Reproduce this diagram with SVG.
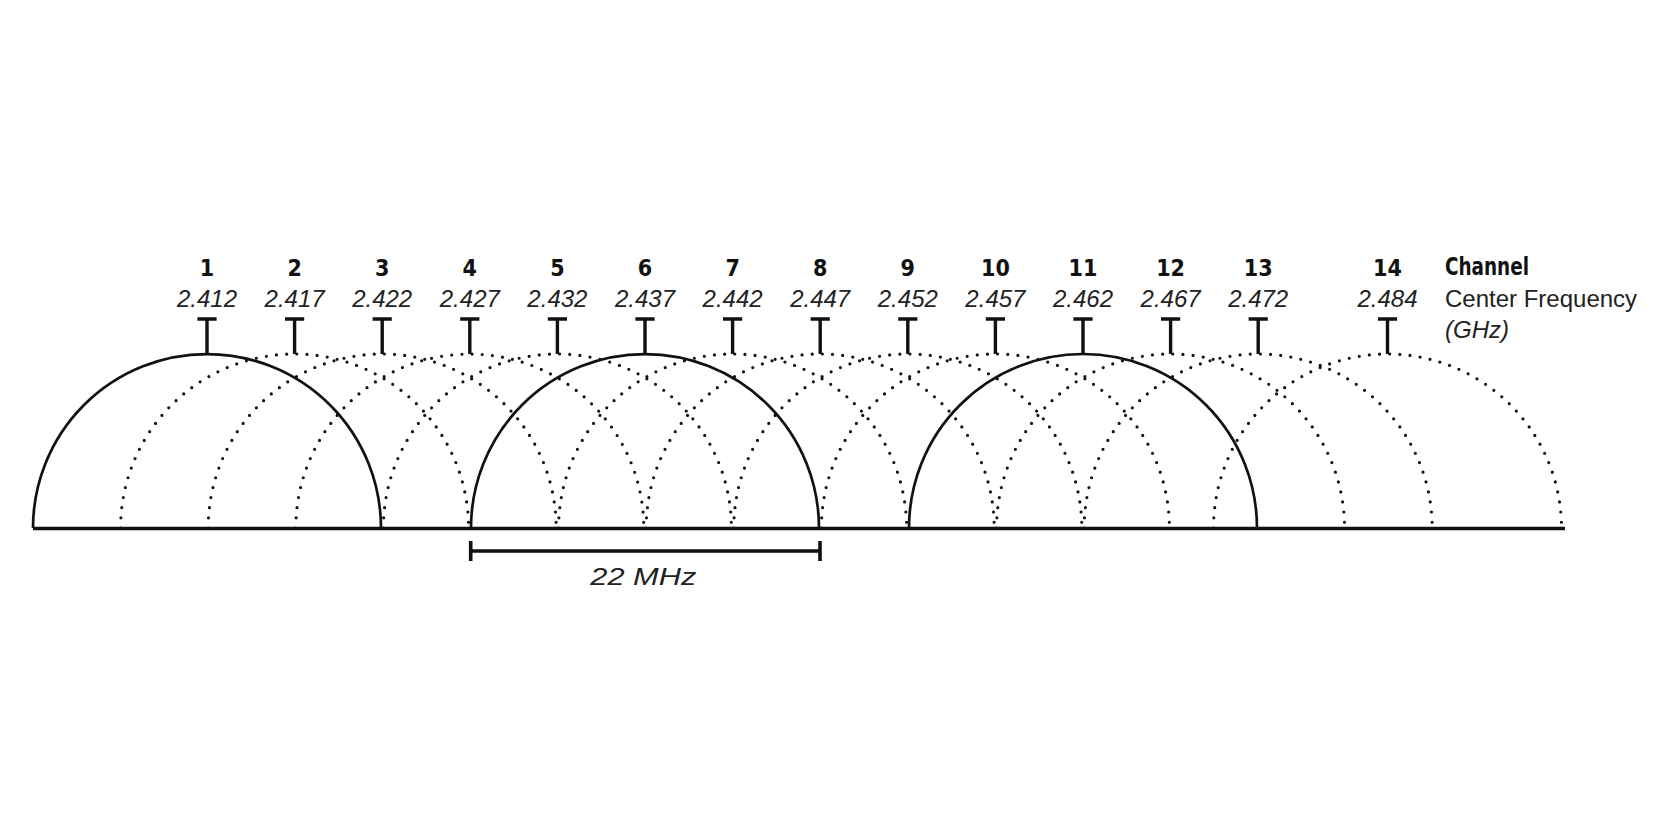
<svg xmlns="http://www.w3.org/2000/svg" width="1680" height="840" viewBox="0 0 1680 840">
<style>
.num{font-family:"Liberation Sans Narrow","DejaVu Sans Condensed","Liberation Sans",sans-serif;font-weight:bold;font-size:23px;fill:#111;text-anchor:middle}
.freq{font-family:"Liberation Sans","DejaVu Sans",sans-serif;font-style:italic;font-size:24px;fill:#222;text-anchor:middle}
.lab{font-family:"Liberation Sans","DejaVu Sans",sans-serif;font-size:24px;fill:#222}
.labb{font-family:"Liberation Sans Narrow","DejaVu Sans Condensed","Liberation Sans",sans-serif;font-weight:bold;font-size:25px;fill:#111}
.tick{stroke:#111;stroke-width:3.4;fill:none}
.solid{stroke:#111;stroke-width:2.7;fill:none}
.dot{stroke:#111;stroke-width:3.2;fill:none;stroke-linecap:round;stroke-dasharray:0 10.2}
.axis{stroke:#111;stroke-width:3.6;fill:none}
</style>
<rect width="1680" height="840" fill="#fff"/>
<g id="ch2"><text class="num" x="294.6" y="276">2</text><text class="freq" x="294.6" y="307">2.417</text><path class="tick" d="M285 319H304.2M294.6 319V354"/><path class="dot" d="M120.6 528A174 174 0 0 1 468.6 528"/></g>
<g id="ch3"><text class="num" x="382.2" y="276">3</text><text class="freq" x="382.2" y="307">2.422</text><path class="tick" d="M372.6 319H391.8M382.2 319V354"/><path class="dot" d="M208.2 528A174 174 0 0 1 556.2 528"/></g>
<g id="ch4"><text class="num" x="469.8" y="276">4</text><text class="freq" x="469.8" y="307">2.427</text><path class="tick" d="M460.2 319H479.4M469.8 319V354"/><path class="dot" d="M295.8 528A174 174 0 0 1 643.8 528"/></g>
<g id="ch5"><text class="num" x="557.4" y="276">5</text><text class="freq" x="557.4" y="307">2.432</text><path class="tick" d="M547.8 319H567M557.4 319V354"/><path class="dot" d="M383.4 528A174 174 0 0 1 731.4 528"/></g>
<g id="ch7"><text class="num" x="732.6" y="276">7</text><text class="freq" x="732.6" y="307">2.442</text><path class="tick" d="M723 319H742.2M732.6 319V354"/><path class="dot" d="M558.6 528A174 174 0 0 1 906.6 528"/></g>
<g id="ch8"><text class="num" x="820.2" y="276">8</text><text class="freq" x="820.2" y="307">2.447</text><path class="tick" d="M810.6 319H829.8M820.2 319V354"/><path class="dot" d="M646.2 528A174 174 0 0 1 994.2 528"/></g>
<g id="ch9"><text class="num" x="907.8" y="276">9</text><text class="freq" x="907.8" y="307">2.452</text><path class="tick" d="M898.2 319H917.4M907.8 319V354"/><path class="dot" d="M733.8 528A174 174 0 0 1 1081.8 528"/></g>
<g id="ch10"><text class="num" x="995.4" y="276">10</text><text class="freq" x="995.4" y="307">2.457</text><path class="tick" d="M985.8 319H1005M995.4 319V354"/><path class="dot" d="M821.4 528A174 174 0 0 1 1169.4 528"/></g>
<g id="ch12"><text class="num" x="1170.6" y="276">12</text><text class="freq" x="1170.6" y="307">2.467</text><path class="tick" d="M1161 319H1180.2M1170.6 319V354"/><path class="dot" d="M996.6 528A174 174 0 0 1 1344.6 528"/></g>
<g id="ch13"><text class="num" x="1258.2" y="276">13</text><text class="freq" x="1258.2" y="307">2.472</text><path class="tick" d="M1248.6 319H1267.8M1258.2 319V354"/><path class="dot" d="M1084.2 528A174 174 0 0 1 1432.2 528"/></g>
<g id="ch14"><text class="num" x="1387.5" y="276">14</text><text class="freq" x="1387.5" y="307">2.484</text><path class="tick" d="M1377.9 319H1397.1M1387.5 319V354"/><path class="dot" d="M1213.5 528A174 174 0 0 1 1561.5 528"/></g>
<g id="ch1"><text class="num" x="207" y="276">1</text><text class="freq" x="207" y="307">2.412</text><path class="tick" d="M197.4 319H216.6M207 319V354"/><path class="solid" d="M33 528A174 174 0 0 1 381 528"/></g>
<g id="ch6"><text class="num" x="645" y="276">6</text><text class="freq" x="645" y="307">2.437</text><path class="tick" d="M635.4 319H654.6M645 319V354"/><path class="solid" d="M471 528A174 174 0 0 1 819 528"/></g>
<g id="ch11"><text class="num" x="1083" y="276">11</text><text class="freq" x="1083" y="307">2.462</text><path class="tick" d="M1073.4 319H1092.6M1083 319V354"/><path class="solid" d="M909 528A174 174 0 0 1 1257 528"/></g>
<g id="legend"><text class="labb" x="1445" y="275" textLength="84" lengthAdjust="spacingAndGlyphs">Channel</text><text class="lab" x="1445" y="307">Center Frequency</text><text class="lab" x="1445" y="338" font-style="italic">(GHz)</text></g>
<g id="connectors">
<path class="axis" d="M33 528.5H1565"/>
<path class="axis" d="M470.7 551H820M470.7 541V561M820 541V561"/>
</g>
<g id="span"><text class="lab" x="643.3" y="585" font-size="28" font-style="italic" text-anchor="middle" textLength="106" lengthAdjust="spacingAndGlyphs">22 MHz</text></g>
</svg>
